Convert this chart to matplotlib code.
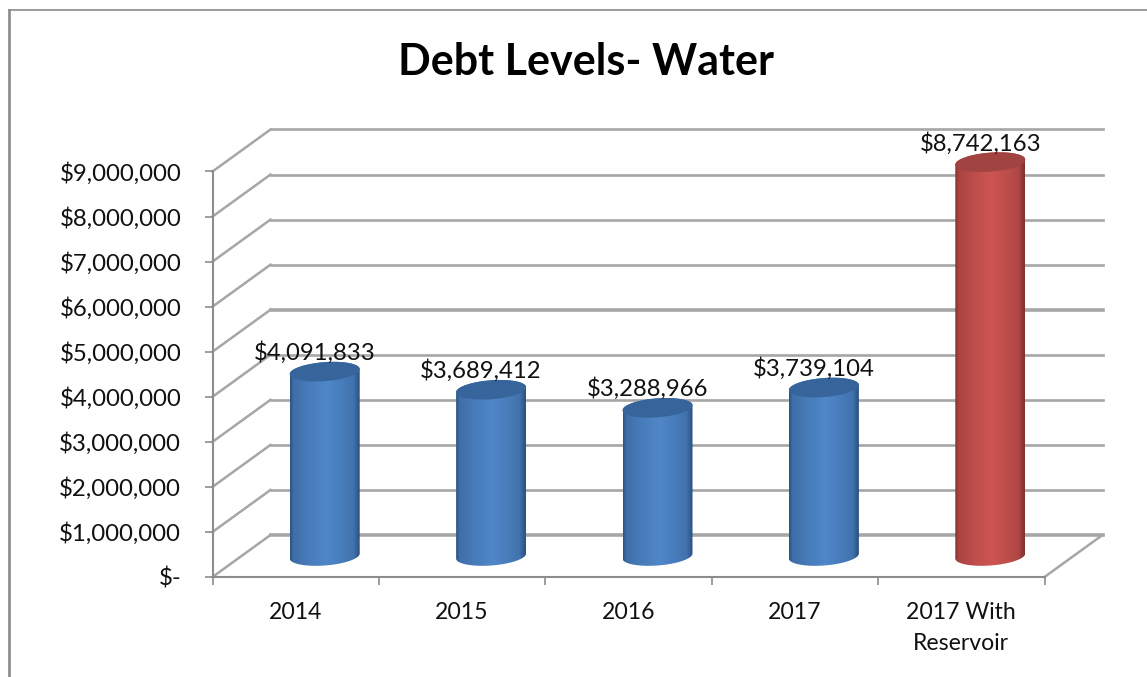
import numpy as np
import matplotlib
matplotlib.use("Agg")
import matplotlib.pyplot as plt
from matplotlib.lines import Line2D
from matplotlib.patches import Polygon

categories = ["2014", "2015", "2016", "2017", "2017 With\nReservoir"]
debt_values = [4091833, 3689412, 3288966, 3739104, 8742163]
value_labels = ["$4,091,833", "$3,689,412", "$3,288,966", "$3,739,104", "$8,742,163"]
y_ticks = [0, 1000000, 2000000, 3000000, 4000000, 5000000, 6000000, 7000000, 8000000, 9000000]
y_tick_labels = ["$-", "$1,000,000", "$2,000,000", "$3,000,000", "$4,000,000",
                 "$5,000,000", "$6,000,000", "$7,000,000", "$8,000,000", "$9,000,000"]

W, H = 1147, 677
GRID = "#a6a6a6"
AXIS = "#8c8c8c"
TEXT = "#111111"
FONT = "Lato"

# pixel box of the front plane
left, right, bottom, top = 212.5, 1044.5, 577.0, 171.5

# depth of the 3d box in data units
per_x = (right - left) / 5
per_y = (bottom - top) / 9000000
depth_x = 58 / per_x
depth_y = 42 / per_y

fig = plt.figure(figsize=(W / 100, H / 100), dpi=100)
plt.rcParams["font.family"] = FONT

# outer chart frame, only the top and left edges fall inside the image
fig.add_artist(Line2D([8.5 / W, 1], [1 - 9.5 / H, 1 - 9.5 / H], color="#8a8a8a", lw=1.2))
fig.add_artist(Line2D([8.5 / W, 8.5 / W], [0, 1 - 9.5 / H], color="#8a8a8a", lw=1.9))

ax = fig.add_axes([left / W, 1 - bottom / H, (right - left) / W, (bottom - top) / H])
ax.set_xlim(0, 5)
ax.set_ylim(0, 9000000)
ax.patch.set_alpha(0)

for s in ["top", "right"]:
    ax.spines[s].set_visible(False)
for s in ["left", "bottom"]:
    ax.spines[s].set_color(AXIS)
    ax.spines[s].set_linewidth(1.5)

# side wall and back wall gridlines
for v in y_ticks:
    ax.plot([0, depth_x], [v, v + depth_y], color=GRID, lw=1.8, clip_on=False, zorder=1)
    lw = 2.6 if v in (0, 5000000) else 1.9
    ax.plot([depth_x, 5 + depth_x], [v + depth_y, v + depth_y],
            color=GRID, lw=lw, clip_on=False, zorder=1)
ax.plot([5, 5 + depth_x], [0, depth_y], color=GRID, lw=1.8, clip_on=False, zorder=1)

ax.set_yticks(y_ticks)
ax.set_yticklabels(y_tick_labels, fontsize=17.3, color=TEXT, fontname=FONT)
ax.tick_params(axis="y", length=5.5, width=1.2, color=AXIS, pad=17)

ax.set_xticks(range(6))
ax.set_xticklabels([])
ax.tick_params(axis="x", which="major", length=5.5, width=1.2, color=AXIS)
ax.set_xticks([i + 0.5 for i in range(5)], minor=True)
ax.set_xticklabels(categories, minor=True, fontsize=16.6, color=TEXT, fontname=FONT,
                   linespacing=1.6)
ax.tick_params(axis="x", which="minor", length=0, pad=18)


def cylinder(i, value, face_dark, face_light, cap):
    # half width and ellipse shape in data units
    a = 35 / per_x
    b = 9.5 / per_y
    tilt = 2.5 / per_y
    cx = i + 0.5 + 0.5 * depth_x
    y0 = 0.5 * depth_y

    t = np.linspace(0, 2 * np.pi, 120)
    ring_x = cx + a * np.cos(t)
    ring_y = b * np.sin(t) + tilt * np.cos(t)

    lower = t[t >= np.pi]
    upper = t[t <= np.pi]
    body_x = np.r_[cx + a * np.cos(lower), cx + a * np.cos(upper)]
    body_y = np.r_[y0 + b * np.sin(lower) + tilt * np.cos(lower),
                   y0 + value + b * np.sin(upper) + tilt * np.cos(upper)]

    clip = Polygon(np.c_[body_x, body_y], closed=True, transform=ax.transData,
                   facecolor="none", edgecolor="none", clip_on=False)
    ax.add_patch(clip)

    # horizontal shading across the cylinder
    u = np.linspace(-1, 1, 256)
    shade = np.interp(u, [-1, -0.9, -0.5, 0.05, 0.5, 0.82, 1],
                      [0.05, 0.55, 0.78, 1, 0.8, 0.62, 0.0])[None, :, None]
    dark = np.array(matplotlib.colors.to_rgb(face_dark))
    light = np.array(matplotlib.colors.to_rgb(face_light))
    img = dark + (light - dark) * shade
    im = ax.imshow(img, extent=[cx - a, cx + a, y0 - 2 * b, y0 + value + 2 * b],
                   aspect="auto", origin="lower", zorder=3)
    im.set_clip_box(fig.bbox)
    im.set_clip_path(clip)

    ax.fill(ring_x, y0 + value + ring_y, color=cap, zorder=4, clip_on=False, lw=0)
    ax.set_xlim(0, 5)
    ax.set_ylim(0, 9000000)
    return cx, y0 + value


colors = [("#2a5080", "#4f87c9", "#37659b")] * 4 + [("#7d2f2e", "#cd5553", "#a04341")]

for i, (v, lab) in enumerate(zip(debt_values, value_labels)):
    d, l, c = colors[i]
    cx, ytop = cylinder(i, v, d, l, c)
    ax.annotate(lab, (cx, ytop), xytext=(-10, 19), textcoords="offset pixels",
                ha="center", va="center", fontsize=17.2, color=TEXT, fontname=FONT, zorder=6,
                annotation_clip=False)

fig.text(585.5 / W, 1 - 62 / H, "Debt Levels- Water", ha="center", va="center",
         fontsize=31, fontweight="bold", color="#000000", fontname=FONT)

fig.savefig("out.png", dpi=100, facecolor="white")
